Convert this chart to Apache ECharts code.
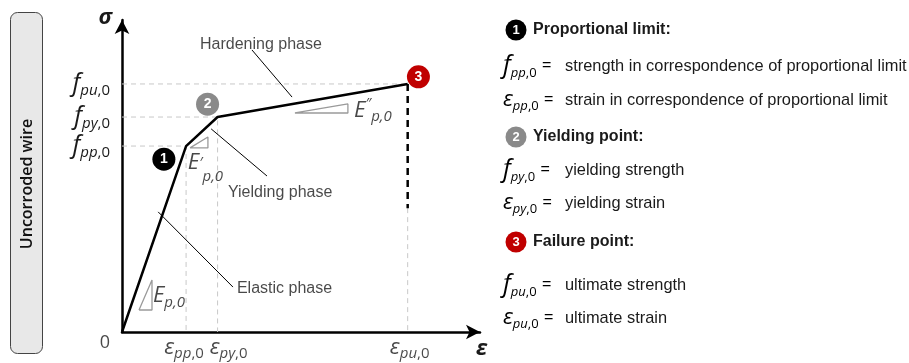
<!DOCTYPE html>
<html><head><meta charset="utf-8">
<script src="https://cdn.jsdelivr.net/npm/echarts@6/dist/echarts.min.js"></script>
<style>html,body{margin:0;padding:0;background:#fff}#c{width:909px;height:363px}</style>
</head><body><div id="c"></div>
<script>
// ---------- data ----------
const pointKeys = ['pp', 'py', 'pu'];
const strainValues = [17.9, 26.7, 79.8];      // eps_pp,0  eps_py,0  eps_pu,0
const stressValues = [59.6, 68.9, 79.5];      // f_pp,0    f_py,0    f_pu,0
const curveX = [0, 17.9, 26.7, 79.8];
const curveY = [0, 59.6, 68.9, 79.5];
const failureDashEnd = 39.7;

const markerLabels = ['1', '2', '3'];
const markerX = [11.7, 23.9, 82.8];
const markerY = [55.4, 73.0, 81.8];
const markerColors = ['#000000', '#8a8a8a', '#c00000'];

// slope triangles (x1,y1 bottom-left; x2 right; y2 top)
const triX1 = [4.75, 19.0, 48.3];
const triX2 = [8.38, 24.0, 63.1];
const triY1 = [7.05, 59.0, 70.2];
const triY2 = [16.67, 62.5, 73.1];

// leader lines
const leaderX1 = [36.3, 24.9, 10.1];
const leaderY1 = [90.4, 65.1, 38.5];
const leaderX2 = [47.5, 40.5, 31.0];
const leaderY2 = [75.3, 50.0, 14.4];

// phase and modulus annotations
const annoTexts = ['Hardening phase', 'Yielding phase', 'Elastic phase',
  '{E|E}{s|p,0}', '{E2|E}{p2|′}{s|p,0}', '{E|E}{p|″}{s|p,0}'];
const annoX = [21.8, 29.6, 32.1, 8.66, 18.4, 64.8];
const annoY = [92.0, 44.6, 13.8, 11.5, 54.2, 71.0];

const legendHeads = ['Proportional limit:', 'Yielding point:', 'Failure point:'];
const legendDescriptions = [
  ['strength in correspondence of proportional limit', 'strain in correspondence of proportional limit'],
  ['yielding strength', 'yielding strain'],
  ['ultimate strength', 'ultimate strain']
];
const sideLabel = 'Uncorroded wire';

// ---------- layout / style ----------
const MATH = "'Open Sans', 'DejaVu Sans', sans-serif";
const TEXT = "'Liberation Sans', Arial, sans-serif";
const INK = '#1a1a1a';
const rich = {
  f: {fontFamily: MATH, fontStyle: 'italic', fontSize: 25, lineHeight: 28, color: INK},
  e: {fontFamily: MATH, fontStyle: 'italic', fontSize: 22, lineHeight: 26, color: INK},
  E: {fontFamily: MATH, fontStyle: 'italic', fontSize: 22, lineHeight: 28, color: INK},
  E2: {fontFamily: MATH, fontStyle: 'italic', fontSize: 22, lineHeight: 42, color: INK},
  s: {fontFamily: MATH, fontStyle: 'italic', fontSize: 15, lineHeight: 12, verticalAlign: 'bottom', color: INK},
  z: {fontFamily: MATH, fontSize: 15, lineHeight: 12, verticalAlign: 'bottom', color: INK},
  p: {fontFamily: MATH, fontStyle: 'italic', fontSize: 15, lineHeight: 14, verticalAlign: 'top', color: INK},
  p2: {fontFamily: MATH, fontStyle: 'italic', fontSize: 15, lineHeight: 30, verticalAlign: 'middle', color: INK},
  ls: {fontFamily: MATH, fontStyle: 'italic', fontSize: 13, lineHeight: 10, verticalAlign: 'bottom', color: INK},
  lz: {fontFamily: MATH, fontSize: 13, lineHeight: 10, verticalAlign: 'bottom', color: INK},
  q: {fontFamily: TEXT, fontSize: 16, color: INK, padding: [0, 0, 0, 1]}
};

const chart = echarts.init(document.getElementById('c'));

const guideStyle = {color: '#c8c8c8', width: 1, type: [5, 4]};
const series = [];
// guide lines
for (let i = 0; i < 2; i++) {
  series.push({type: 'line', silent: true, symbol: 'none', lineStyle: guideStyle, z: 1,
    data: [[0, stressValues[i]], [strainValues[i], stressValues[i]], [strainValues[i], 0]]});
}
series.push({type: 'line', silent: true, symbol: 'none', lineStyle: guideStyle, z: 1,
  data: [[0, stressValues[2]], [strainValues[2], stressValues[2]]]});
series.push({type: 'line', silent: true, symbol: 'none', lineStyle: guideStyle, z: 1,
  data: [[strainValues[2], failureDashEnd], [strainValues[2], 0]]});
// failure dashed
series.push({type: 'line', silent: true, symbol: 'none', z: 3,
  lineStyle: {color: '#000', width: 2.5, type: [7, 5]},
  data: [[strainValues[2], stressValues[2]], [strainValues[2], failureDashEnd]]});
// main curve
series.push({type: 'line', silent: true, symbol: 'none', z: 4,
  lineStyle: {color: '#000', width: 2.5},
  data: curveX.map((x, i) => [x, curveY[i]])});
// triangles
for (let i = 0; i < 3; i++) {
  series.push({type: 'line', silent: true, symbol: 'none', z: 2,
    lineStyle: {color: '#9a9a9a', width: 1.3},
    data: [[triX1[i], triY1[i]], [triX2[i], triY1[i]], [triX2[i], triY2[i]], [triX1[i], triY1[i]]]});
}
// leaders
for (let i = 0; i < 3; i++) {
  series.push({type: 'line', silent: true, symbol: 'none', z: 2,
    lineStyle: {color: '#000', width: 1},
    data: [[leaderX1[i], leaderY1[i]], [leaderX2[i], leaderY2[i]]]});
}
// markers
series.push({type: 'scatter', silent: true, z: 6, symbolSize: 23,
  data: markerX.map((x, i) => ({value: [x, markerY[i]], name: markerLabels[i], itemStyle: {color: markerColors[i], opacity: 1}})),
  label: {show: true, position: 'inside', formatter: p => p.name, color: '#fff',
    fontFamily: TEXT, fontWeight: 'bold', fontSize: 14}});
// annotations
series.push({type: 'scatter', silent: true, z: 7, symbolSize: 0,
  data: annoX.map((x, i) => ({value: [x, annoY[i]], name: annoTexts[i]})),
  label: {show: true, position: 'right', distance: 0, formatter: p => p.name,
    fontFamily: TEXT, fontSize: 16, color: INK, rich: rich}});
// strain tick labels under the x axis
series.push({type: 'scatter', silent: true, z: 7, symbolSize: 0,
  data: strainValues.map((x, i) => ({value: [x, 0], name: `{e|ε}{s|${pointKeys[i]}}{z|,0}`,
    label: {offset: [i === 1 ? 11 : (i === 0 ? -2 : 2), 0]}})),
  label: {show: true, position: 'bottom', distance: 3, formatter: p => p.name, rich: rich}});
// origin "0"
series.push({type: 'scatter', silent: true, z: 7, symbolSize: 0,
  data: [{value: [0, 0], name: '0'}],
  label: {show: true, position: 'left', distance: 12, offset: [0, 11], formatter: p => p.name,
    fontFamily: MATH, fontSize: 18, color: INK}});

// graphics: side box and legend
const graphic = [
  {type: 'rect', shape: {x: 10.5, y: 12.5, width: 32, height: 341, r: 7},
    style: {fill: '#e8e8e8', stroke: '#444', lineWidth: 1}},
  {type: 'text', x: 27, y: 184, rotation: Math.PI / 2,
    style: {text: sideLabel, fill: '#111', font: "600 16px 'Open Sans'", align: 'center', verticalAlign: 'middle'}}
];
const headY = [30, 137, 242];
const rowY = [[66, 100], [170, 203], [285, 318]];
for (let i = 0; i < 3; i++) {
  graphic.push({type: 'circle', shape: {cx: 516, cy: headY[i], r: 10.5}, style: {fill: markerColors[i]}});
  graphic.push({type: 'text', x: 516, y: headY[i] + 0.5,
    style: {text: markerLabels[i], fill: '#fff', font: "bold 13px 'Liberation Sans'", align: 'center', verticalAlign: 'middle'}});
  graphic.push({type: 'text', x: 533, y: headY[i],
    style: {text: legendHeads[i], fill: INK, font: "bold 16px 'Liberation Sans'", verticalAlign: 'middle'}});
  ['f', 'e'].forEach((sym, j) => {
    const glyph = sym === 'f' ? 'f' : 'ε';
    graphic.push({type: 'text', x: 503, y: rowY[i][j],
      style: {text: `{${sym}|${glyph}}{ls|${pointKeys[i]}}{lz|,0}{q| =}`, rich: rich, verticalAlign: 'middle'}});
    graphic.push({type: 'text', x: 565, y: rowY[i][j],
      style: {text: legendDescriptions[i][j], fill: INK, font: "16.4px 'Liberation Sans'", verticalAlign: 'middle'}});
  });
}

chart.setOption({
  animation: false,
  grid: {left: 122, right: 429, top: 20, bottom: 31, containLabel: false, outerBoundsMode: 'none'},
  xAxis: {type: 'value', min: 0, max: 100,
    name: 'ε', nameLocation: 'end', nameGap: -4,
    nameTextStyle: {fontFamily: MATH, fontStyle: 'italic', fontWeight: 'bold', fontSize: 22, color: INK,
      align: 'left', verticalAlign: 'top', padding: [6, 0, 0, 0]},
    axisLine: {show: true, symbol: ['none', 'arrow'], symbolSize: [11, 14], lineStyle: {color: '#000', width: 2.5}},
    axisTick: {show: false}, splitLine: {show: false}, axisLabel: {show: false}
  },
  yAxis: {type: 'value', min: 0, max: 100,
    name: 'σ', nameLocation: 'end', nameGap: 2,
    nameTextStyle: {fontFamily: MATH, fontStyle: 'italic', fontWeight: 'bold', fontSize: 22, color: INK,
      align: 'right', verticalAlign: 'middle', padding: [0, 10, 0, 0]},
    axisLine: {show: true, symbol: ['none', 'arrow'], symbolSize: [11, 14], lineStyle: {color: '#000', width: 2.5}},
    axisTick: {show: false}, splitLine: {show: false},
    axisLabel: {show: true, customValues: stressValues, margin: 12, hideOverlap: false,
      formatter: v => `{f|f}{s|${pointKeys[stressValues.indexOf(v)]}}{z|,0}`, rich: rich}
  },
  graphic: graphic,
  series: series
});
</script></body></html>
